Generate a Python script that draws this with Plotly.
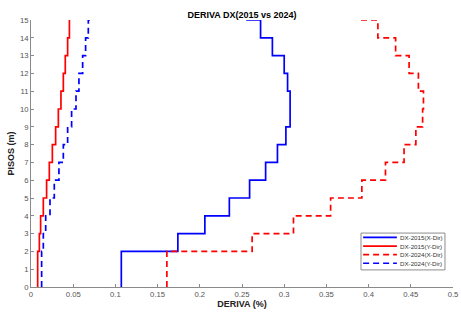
import plotly.graph_objects as go

# ---------------- data ----------------
floors = [0, 2, 3, 4, 5, 6, 7, 8, 9, 10, 11, 12, 13, 14, 15]

dx2015_x = [0.107, 0.174, 0.206, 0.235, 0.259, 0.278, 0.292, 0.302, 0.307,
            0.307, 0.304, 0.300, 0.286, 0.272, 0.255]
dx2015_y = [0.0079, 0.0099, 0.0114, 0.0146, 0.0185, 0.0217, 0.0253, 0.0292,
            0.0324, 0.0355, 0.0383, 0.0406, 0.0434, 0.0455, 0.0445]
dx2024_x = [0.161, 0.262, 0.311, 0.355, 0.392, 0.420, 0.442, 0.456, 0.464,
            0.465, 0.459, 0.448, 0.432, 0.411, 0.386]
dx2024_y = [0.0126, 0.0146, 0.0174, 0.0225, 0.0276, 0.0331, 0.0383, 0.0434,
            0.0481, 0.0533, 0.0568, 0.0612, 0.0647, 0.0679, 0.0698]

series_names = ["DX-2015(X-Dir)", "DX-2015(Y-Dir)", "DX-2024(X-Dir)", "DX-2024(Y-Dir)"]
series_values = [dx2015_x, dx2015_y, dx2024_x, dx2024_y]
series_colors = ["#0000ff", "#ff0000", "#ff0000", "#0000ff"]
series_dash = ["solid", "solid", "6px,4px", "6px,4px"]

x_ticks = [0, 0.05, 0.1, 0.15, 0.2, 0.25, 0.3, 0.35, 0.4, 0.45, 0.5]
x_tick_labels = ["0", "0.05", "0.1", "0.15", "0.2", "0.25", "0.3", "0.35", "0.4", "0.45", "0.5"]
y_ticks = list(range(0, 16))

FONT = "Liberation Sans"

fig = go.Figure()
for name, vals, col, dash in zip(series_names, series_values, series_colors, series_dash):
    fig.add_trace(go.Scatter(
        x=vals, y=floors, mode="lines", name=name,
        line=dict(color=col, width=1.7, dash=dash, shape="vh"),
        showlegend=False,
    ))

# ---------- custom compact legend (MATLAB style) ----------
box = dict(x0=0.782, x1=0.981, y0=0.064, y1=0.202)
shapes = [dict(type="rect", xref="paper", yref="paper", **box,
               line=dict(color="#8c8c8c", width=1), fillcolor="white", layer="above")]
annotations = []
row_y = [0.186, 0.153, 0.121, 0.089]
for name, col, dash, yy in zip(series_names, series_colors, series_dash, row_y):
    shapes.append(dict(type="line", xref="paper", yref="paper",
                       x0=0.787, x1=0.867, y0=yy, y1=yy, layer="above",
                       line=dict(color=col, width=1.7, dash=dash)))
    annotations.append(dict(xref="paper", yref="paper", x=0.869, y=yy,
                            xanchor="left", yanchor="middle", showarrow=False,
                            text=name, font=dict(family=FONT, size=6.2, color="#333333")))

fig.update_layout(
    width=461, height=313,
    margin=dict(l=31, r=8, t=20, b=26),
    paper_bgcolor="white", plot_bgcolor="white",
    title=dict(text="<b>DERIVA DX(2015 vs 2024)</b>", x=0.5, xanchor="center",
               xref="paper", y=0.952, yanchor="middle",
               font=dict(family=FONT, size=9, color="black")),
    shapes=shapes, annotations=annotations,
    showlegend=False,
)
fig.update_xaxes(
    range=[0, 0.5], tickvals=x_ticks, ticktext=x_tick_labels, automargin=False,
    showgrid=False, zeroline=False, showline=True, linecolor="#8a8a8a", linewidth=1,
    ticks="inside", ticklen=3, tickcolor="#8a8a8a",
    tickfont=dict(family=FONT, size=7.7, color="#555555"),
    title=dict(text="<b>DERIVA (%)</b>", standoff=1,
               font=dict(family=FONT, size=9, color="#222222")),
)
fig.update_yaxes(
    range=[0, 15], tickvals=y_ticks, automargin=False,
    showgrid=False, zeroline=False, showline=True, linecolor="#8a8a8a", linewidth=1,
    ticks="inside", ticklen=3, tickcolor="#8a8a8a",
    tickfont=dict(family=FONT, size=7.7, color="#555555"),
    title=dict(text="<b>PISOS (m)</b>", standoff=3,
               font=dict(family=FONT, size=9, color="#222222")),
)

fig.write_html("out.html", config={"displayModeBar": False},
               post_script="document.body.style.margin='0';")
